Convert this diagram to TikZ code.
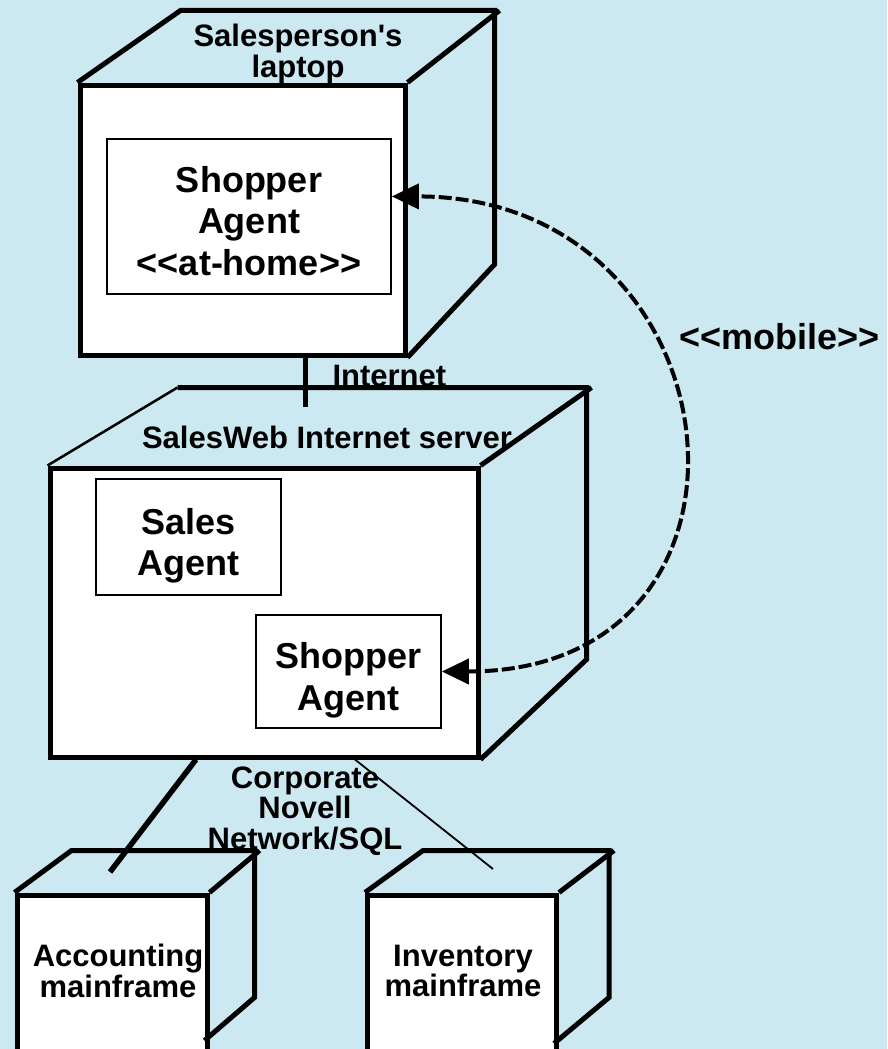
\documentclass[tikz,border=0pt]{standalone}
\usepackage{fontspec}
\setmainfont{Liberation Sans}
\usetikzlibrary{arrows.meta,positioning,calc}
\definecolor{sky}{RGB}{204,233,242}

\begin{document}
\begin{tikzpicture}[x=1pt,y=-1pt,>={Triangle[length=27pt,width=25pt]},node distance=350pt]
          \tikzstyle{front}=[draw=black,fill=white,line width=5pt,inner sep=0pt]
          \tikzstyle{agent}=[draw=black,fill=white,line width=1.7pt,align=center,inner sep=0pt,font=\fontsize{36}{41.5}\selectfont\bfseries]
          \tikzstyle{tag}=[align=center,inner sep=0pt,font=\fontsize{31}{30.5}\selectfont\bfseries]
          \tikzstyle{wire}=[draw=black,line width=5pt]
          \path[use as bounding box,fill=sky] (0,0) rectangle (887,1049);
          \clip (0,0) rectangle (887,1049);

          % nodes (front faces)
          \node[front,minimum width=325pt,minimum height=270pt] (lap)  at (242.5,220) {};
          \node[front,minimum width=428pt,minimum height=289pt] (srv)  at (264,612.5) {};
          \node[front,minimum width=190pt,minimum height=170pt] (acct) at (112,980)   {};
          \node[front,minimum width=189pt,minimum height=170pt] (inv)  [right of=acct] {};

          % depth of the cubes
          \draw[wire] (lap.north west) -- ++(103,-72) -- ++(314,0) -- ++(0,254) -- (lap.south east);
          \draw[wire] (lap.north east) -- ++(92,-72);
          \draw[wire,line width=2.5pt] (srv.north west) -- ++(130,-78);
          \draw[wire] (srv.north west) ++(130,-78) -- ++(409,0) -- ++(0,272) -- (srv.south east);
          \draw[wire] (srv.north east) -- ++(111,-78);
          \draw[wire] (acct.north west) -- ++(57,-42) -- ++(183,0) -- ++(0,147) -- ++(-50,43);
          \draw[wire] (acct.north east) -- ++(50,-42);
          \draw[wire] (inv.north west) -- ++(58,-42) -- ++(186,0) -- ++(0,147) -- ++(-55,46);
          \draw[wire] (inv.north east) -- ++(55,-42);

          % components
          \node[agent,minimum width=284pt,minimum height=155pt,text height=118pt] (lapshop) at (249,216.5) {Shopper\\Agent\\<{}<at-home>{}>};
          \node[agent,minimum width=185pt,minimum height=116pt,text height=85pt]  (sales)   at (188.5,537)  {Sales\\Agent};
          \node[agent,minimum width=185pt,minimum height=113pt,text height=85pt]  (srvshop) at (348.5,671.5) {Shopper\\Agent};

          \node[tag] (laptag)  at (298,54)  {Salesperson\textquotesingle s\\laptop};
          \node[tag] (srvtag)  at (327,437) {SalesWeb Internet server};
          \node[tag] (accttag) at (118,971) {Accounting\\mainframe};
          \node[tag] (invtag)  at (463,971) {Inventory\\mainframe};
          \node[tag] (lan)     at (305,811) {Corporate\\Novell\\Network/SQL};

          \coordinate (srvtop)  at (305,407);
          \coordinate (accttop) at (110,872);
          \coordinate (invtop)  at (493,869);

          \path (srvtop |- lap.south) edge[wire] node[tag,right=25pt,pos=0.38] {Internet} (srvtop)
                ($(srv.south west)!0.343!(srv.south east)$) edge[wire,line width=5.5pt] (accttop)
                ($(srv.south west)!0.71!(srv.south east)$)  edge[wire,line width=1.8pt] (invtop)
                (srvshop.east) edge[<->,wire,line width=4pt,dash pattern=on 13pt off 4pt,out=0,in=0,looseness=1.88]
                               node[tag,font=\fontsize{36}{40}\selectfont\bfseries,pos=0.64,right=28pt] {<{}<mobile>{}>} (lapshop.8);
\end{tikzpicture}
\end{document}
